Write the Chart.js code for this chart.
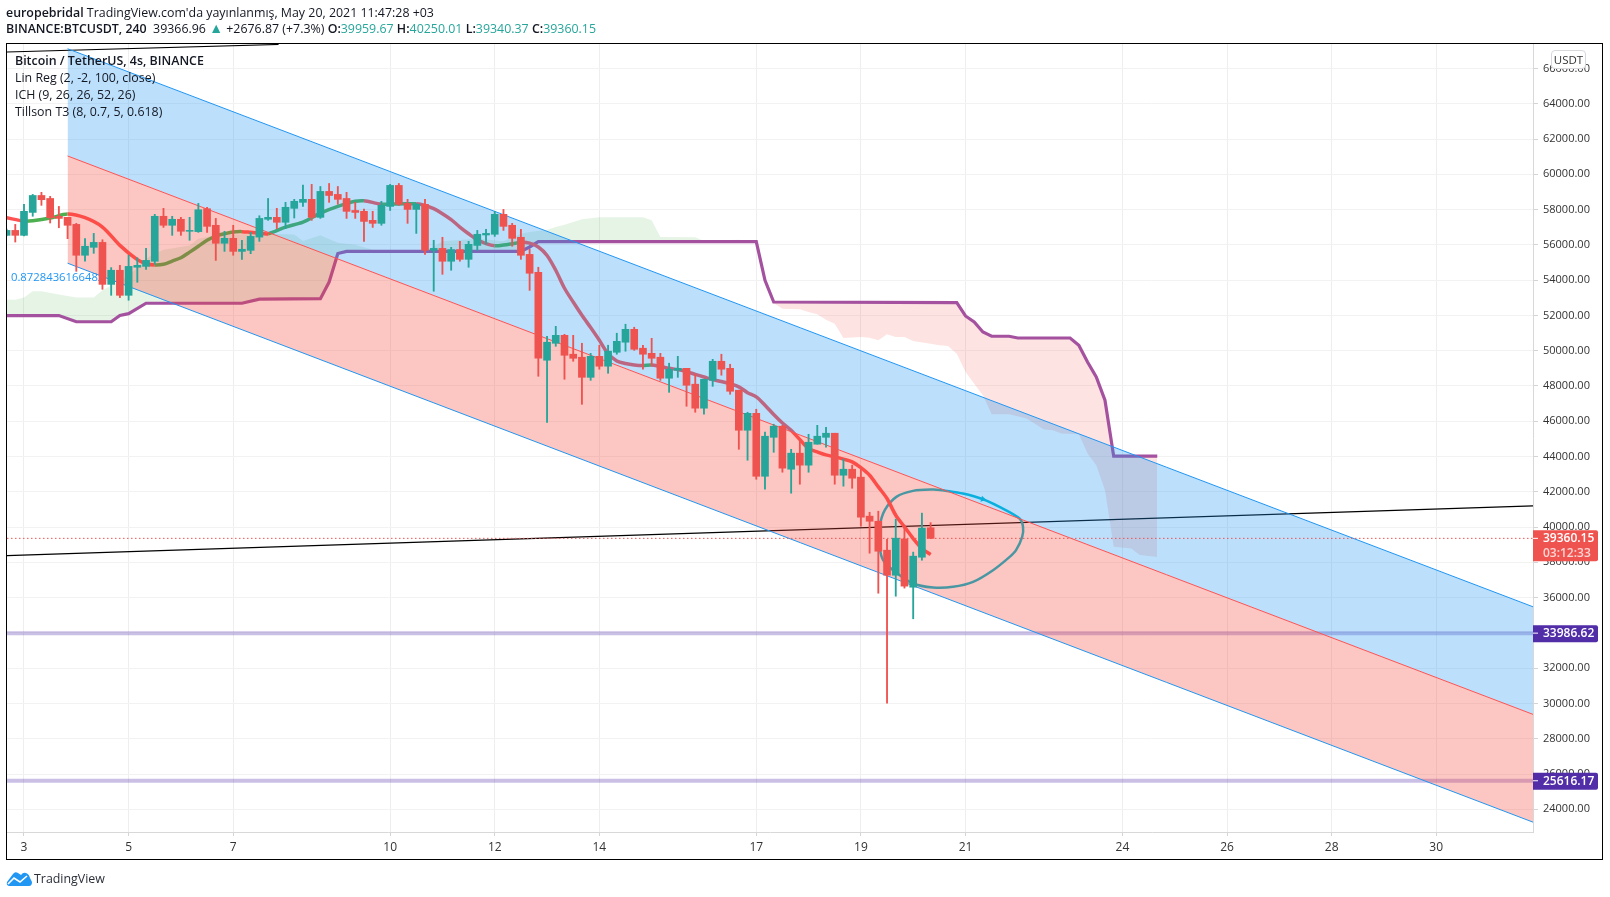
<!DOCTYPE html>
<html>
<head>
<meta charset="utf-8">
<title>BTCUSDT</title>
<script src="https://cdn.jsdelivr.net/npm/chart.js@4/dist/chart.umd.min.js"></script>
<style>
  html, body { margin: 0; padding: 0; background: #fff; overflow: hidden; }
  body { width: 1610px; height: 897px; position: relative; font-family: "Open Sans", sans-serif; color: #131722; }
  #c { position: absolute; left: 0; top: 0; }
  #frame { position: absolute; left: 6px; top: 43px; width: 1595px; height: 815px; border: 1.5px solid #000; pointer-events: none; }
  .line { position: absolute; white-space: nowrap; font-size: 12.4px; line-height: 17px; }
  .line b { font-weight: 600; }
  .g { color: #26a69a; }
  .tri { color: #26a69a; font-size: 14px; line-height: 12px; }
  #usdt { position: absolute; left: 1551px; top: 50px; width: 33px; height: 17px; background: #fff; border: 1px solid #d6d8de; border-radius: 4px; font-size: 11.5px; line-height: 17px; text-align: center; color: #333; }
  #logo { position: absolute; left: 6px; top: 870px; }
</style>
</head>
<body>
<canvas id="c" width="1610" height="897"></canvas>
<div id="frame"></div>
<div class="line" style="left:6px;top:4px"><b>europebridal</b> TradingView.com'da yayınlanmış, May 20, 2021 11:47:28 +03</div>
<div class="line" style="left:6px;top:20px"><b>BINANCE:BTCUSDT, 240</b>&nbsp; 39366.96 <span class="tri">▲</span> +2676.87 (+7.3%) <b>O:</b><span class="g">39959.67</span> <b>H:</b><span class="g">40250.01</span> <b>L:</b><span class="g">39340.37</span> <b>C:</b><span class="g">39360.15</span></div>
<div class="line" style="left:15px;top:52px"><b>Bitcoin / TetherUS, 4s, BINANCE</b></div>
<div class="line" style="left:15px;top:69px">Lin Reg (2, -2, 100, close)</div>
<div class="line" style="left:15px;top:86px">ICH (9, 26, 26, 52, 26)</div>
<div class="line" style="left:15px;top:103px">Tillson T3 (8, 0.7, 5, 0.618)</div>
<div id="usdt">USDT</div>
<svg id="logo" width="26" height="17" viewBox="0 0 26 17"><path d="M1 12 L7 4 Q9 1 12 3 L15 5 Q17 2 20 3 Q23 4 24 8 L26 12 Q26 16 23 16 L3 16 Q0 15 1 12 Z" fill="#2196f3"/><path d="M2 14 L8 8 L14 12 L21 6" fill="none" stroke="#fff" stroke-width="1.6"/></svg>
<div class="line" style="left:34px;top:870px;color:#2a2e39">TradingView</div>

<script>
// bar number = 4h candles since May 3 00:00
const xMin = -1.95, xMax = 173.1, yMin = 22712, yMax = 67388;

const xTickValues = [0, 12, 24, 42, 54, 66, 84, 96, 108, 126, 138, 150, 162];
const xTickLabels = ['3', '5', '7', '10', '12', '14', '17', '19', '21', '24', '26', '28', '30'];
const yTickValues = [24000, 26000, 28000, 30000, 32000, 34000, 36000, 38000, 40000, 42000, 44000, 46000, 48000, 50000, 52000, 54000, 56000, 58000, 60000, 62000, 64000, 66000];

const firstBar = -2;
const opens = [56540, 56820, 56540, 57840, 58800, 58630, 57620, 57560, 57160, 55410, 55860, 56140, 53760, 54560, 53140, 54730, 54780, 55070, 57620, 57110, 57450, 56770, 56750, 58050, 57110, 56090, 56370, 55630, 55690, 56440, 57450, 57560, 57280, 58070, 58410, 58580, 57560, 59030, 58860, 58630, 57950, 57900, 57390, 57220, 58180, 59370, 58350, 58010, 58300, 55690, 55800, 55070, 55730, 55180, 55970, 56560, 56600, 57730, 57110, 56430, 55460, 54440, 49460, 50420, 50870, 49800, 49630, 48490, 49680, 49120, 49910, 50480, 51210, 50140, 49850, 49630, 48440, 48890, 49000, 48100, 46740, 48320, 49400, 49000, 47760, 45490, 46450, 42880, 45090, 45720, 43280, 44190, 43510, 44700, 45090, 45320, 42940, 43280, 42830, 40620, 40330, 38690, 37270, 39330, 36590, 38290, 39959.67];
const highs = [56900, 57160, 58300, 58860, 58980, 58750, 58180, 57560, 57220, 56350, 56650, 56290, 54710, 54840, 55410, 55270, 55800, 57730, 58070, 57620, 57560, 57560, 58350, 58130, 57500, 56770, 57110, 56260, 56710, 57650, 58630, 58070, 58410, 58580, 59390, 59430, 59310, 59480, 59310, 58980, 58410, 58030, 57900, 58470, 59430, 59480, 58580, 58350, 58580, 56260, 56430, 55860, 56200, 56200, 56820, 56880, 57900, 58010, 57220, 56880, 55750, 54730, 50820, 51380, 50930, 50870, 50420, 49850, 50310, 50310, 50990, 51500, 51330, 50310, 50700, 49850, 49290, 49680, 49000, 48660, 48380, 49510, 49800, 49230, 47760, 46510, 46680, 45380, 45830, 45770, 44410, 44920, 45260, 45770, 45660, 45320, 43850, 43510, 43340, 40840, 40900, 39310, 40450, 40110, 38580, 40790, 40250.01];
const lows = [56500, 56160, 56500, 57620, 58240, 57240, 56970, 56350, 54500, 55070, 55520, 53480, 53140, 53010, 52860, 53880, 54610, 54900, 56990, 56540, 56540, 56260, 56710, 56710, 55120, 55630, 55410, 55180, 55500, 56200, 57390, 56920, 56920, 57520, 58180, 57390, 57500, 58410, 58300, 57500, 57500, 56200, 56990, 57110, 57950, 58240, 57220, 56650, 55460, 53370, 54330, 54560, 55070, 54730, 55690, 56030, 56480, 56820, 55920, 55180, 53420, 48550, 45940, 50250, 48380, 49400, 46960, 48320, 48950, 48720, 49800, 49970, 50020, 48950, 49120, 48320, 47640, 48490, 46850, 46510, 46400, 47980, 48610, 47530, 44410, 43790, 42710, 42150, 44240, 43110, 41920, 42430, 43110, 44700, 44530, 42430, 42320, 42200, 40050, 38520, 36250, 30020, 36080, 36540, 34800, 38120, 39340.37];
const closes = [56820, 56540, 57900, 58800, 58560, 57540, 57500, 57110, 55410, 55920, 56140, 53760, 54560, 53140, 54780, 54840, 55120, 57620, 57110, 57450, 56770, 56820, 57990, 57050, 56090, 56370, 55630, 55750, 56480, 57500, 57560, 57280, 58130, 58470, 58580, 57560, 59030, 58800, 58580, 57900, 57840, 57330, 57220, 58240, 59370, 58300, 58010, 58300, 55690, 55800, 55070, 55730, 55180, 56030, 56600, 56650, 57730, 57050, 56370, 55410, 54390, 49570, 50480, 50870, 49740, 49570, 48490, 49680, 49120, 49970, 50530, 51210, 50080, 49800, 49570, 48440, 48950, 49000, 48040, 46740, 48380, 49400, 48950, 47700, 45490, 46450, 42880, 45150, 45720, 43340, 44190, 43510, 44810, 45150, 45320, 42940, 43280, 42770, 40560, 40330, 38630, 37270, 39370, 36650, 38350, 39940, 39360.15];

const channelX = [5, 173.1];
const channelUpper = [67120, 35480];
const channelMiddle = [61040, 29380];
const channelLower = [54960, 23270];

const purpleX = [-2, 4, 6, 10, 11, 12, 14, 25, 27, 34, 35, 36, 37, 57, 58, 59, 60, 84, 85, 86, 107, 108, 109, 110, 111, 113, 114, 120, 121, 122, 123, 124, 125, 130];
const purpleY = [51990, 51990, 51640, 51640, 52000, 52100, 52690, 52690, 52920, 52950, 53890, 55510, 55630, 55630, 55880, 56180, 56180, 56180, 53990, 52760, 52720, 51970, 51630, 51060, 50820, 50820, 50720, 50720, 50310, 49360, 48510, 47190, 44020, 44020];

const leadX = [-2, -1, 0, 1, 2, 4, 6, 8, 9, 10, 12, 13, 14, 15, 16, 19, 20, 22, 24, 28, 31, 32, 34, 36, 38, 40, 42, 46, 47, 48, 52, 55, 57, 58, 60, 61, 62, 64, 66, 71, 72, 73, 77, 78, 82, 84, 85, 86, 87, 89, 90, 91, 92, 93, 94, 96, 97, 98, 99, 100, 101, 102, 104, 105, 106, 107, 108, 109, 110, 111, 113, 115, 117, 118, 119, 121, 122, 123, 124, 125, 127, 128, 130];
const leadY = [52890, 52890, 53010, 53370, 53370, 53180, 53010, 53010, 53420, 53700, 54270, 54710, 55220, 55500, 55730, 55970, 56350, 56540, 56590, 56630, 56590, 56220, 56540, 56120, 56010, 55730, 55630, 55630, 55900, 56200, 56350, 56200, 56630, 56730, 56860, 57010, 57140, 57450, 57560, 57560, 57390, 56440, 56430, 56220, 56290, 56180, 53900, 52700, 52380, 52350, 52190, 52060, 51760, 51530, 50720, 50780, 50740, 50590, 50930, 50780, 50780, 50550, 50400, 50310, 50270, 49830, 48800, 48130, 47470, 46400, 46400, 46150, 45530, 45490, 45300, 45260, 44170, 43510, 42090, 38880, 38790, 38410, 38310];

const t3X = [-2, 0, 1, 3, 5, 7, 9, 11, 13, 14, 15, 16, 17, 18, 19, 20, 21, 22, 23, 24, 25, 26, 27, 28, 30, 32, 34, 36, 38, 39, 41, 43, 45, 46, 47, 48, 49, 50, 51, 52, 53, 54, 55, 57, 58, 59, 60, 61, 62, 63, 64, 65, 66, 67, 68, 69, 70, 71, 72, 73, 74, 75, 76, 77, 78, 79, 80, 81, 82, 83, 84, 85, 86, 87, 88, 89, 90, 91, 92, 93, 94, 95, 96, 97, 98, 99, 100, 101, 102, 103, 104];
const t3Y = [57540, 57350, 57370, 57520, 57750, 57540, 57010, 55970, 55160, 54930, 54860, 54900, 55080, 55270, 55590, 55920, 56260, 56500, 56630, 56730, 56750, 56710, 56670, 56630, 57010, 57290, 57800, 58180, 58470, 58500, 58310, 58320, 58330, 58240, 58050, 57770, 57430, 57010, 56630, 56290, 56070, 55950, 55990, 56140, 56100, 55880, 55400, 54560, 53540, 52760, 52010, 51310, 50590, 49830, 49420, 49270, 49190, 49160, 49190, 49100, 49000, 48930, 48810, 48660, 48510, 48360, 48250, 48120, 47950, 47620, 47380, 46910, 46380, 45900, 45490, 44960, 44450, 44260, 44090, 43980, 43850, 43700, 43370, 42940, 42280, 41620, 40670, 40010, 39350, 38780, 38440];

const trendX = [-1.95, 173.1];
const trendY = [38380, 41200];
const topTrendX = [-1.95, 29.2];
const topTrendY = [66935, 67360];

const sketchX = [105.4, 107.7, 110, 111.9, 114.2, 114.6, 114.5, 113.8, 113.07, 111.16, 108.87, 106.57, 104.28, 101.98, 99.69, 98.55, 98.16, 98.16, 98.74, 100.07, 101.98, 104.28, 105.4];
const sketchY = [42090, 41900, 41580, 41145, 40484, 40012, 39445, 38690, 38312, 37556, 36895, 36612, 36574, 36800, 37556, 38123, 38879, 40012, 40956, 41711, 42052, 42127, 42090];

const lastPrice = 39360.15;
const lastPriceLabel = '39360.15';
const countdownLabel = '03:12:33';
const levels = [33986.62, 25616.17];
const levelLabels = ['33986.62', '25616.17'];
const channelNote = '0.8728436166482';
const noteX = -1.5, noteY = 54160;

const UP = '#26a69a', DOWN = '#ef5350';
const font = '"Open Sans", sans-serif';

const pts = (xs, ys) => xs.map((x, i) => ({ x: x, y: ys[i] }));
const barNo = opens.map((o, i) => firstBar + i);
const candleColors = opens.map((o, i) => closes[i] >= o ? UP : DOWN);

function lineSet(xs, ys, color, width, order, extra) {
  return Object.assign({
    type: 'line', data: pts(xs, ys), borderColor: color, borderWidth: width,
    pointRadius: 0, tension: 0, fill: false, order: order, clip: true
  }, extra || {});
}

const tagPlugin = {
  id: 'tags',
  beforeDatasetsDraw(chart) {
    const c = chart.ctx, xs = chart.scales.x, ys = chart.scales.y;
    c.save();
    c.font = '11.3px ' + font;
    c.fillStyle = '#2196f3';
    c.textBaseline = 'middle';
    c.fillText(channelNote, xs.getPixelForValue(noteX), ys.getPixelForValue(noteY));
    c.restore();
  },
  afterDraw(chart) {
    const c = chart.ctx, ys = chart.scales.y, left = chart.chartArea.right;
    c.save();
    c.textBaseline = 'middle';
    c.textAlign = 'left';
    function tag(y, h, color, texts) {
      c.fillStyle = color;
      c.beginPath();
      c.roundRect(left, y, 65, h, [0, 2, 2, 0]);
      c.fill();
      c.strokeStyle = '#fff';
      c.beginPath();
      c.moveTo(left, y + 8);
      c.lineTo(left + 5, y + 8);
      c.stroke();
      texts.forEach((t, i) => {
        c.fillStyle = t[1];
        c.font = '600 12px ' + font;
        c.fillText(t[0], left + 10, y + 8.5 + i * 15);
      });
    }
    levels.forEach((v, i) => tag(ys.getPixelForValue(v) - 8, 17, '#512da8', [[levelLabels[i], '#fff']]));
    tag(ys.getPixelForValue(lastPrice) - 8, 31, DOWN, [[lastPriceLabel, '#fff'], [countdownLabel, '#fbd5d3']]);
    c.restore();
  }
};

new Chart(document.getElementById('c'), {
  type: 'bar',
  plugins: [tagPlugin],
  data: {
    datasets: [
      // channel and its fills sit over the indicators, candles over everything
      { type: 'bar', data: barNo.map((x, i) => ({ x: x, y: [opens[i], closes[i]] })), backgroundColor: candleColors, barThickness: 7, grouped: false, order: 1 },
      { type: 'bar', data: barNo.map((x, i) => ({ x: x, y: [lows[i], highs[i]] })), backgroundColor: candleColors, barThickness: 1.2, grouped: false, order: 2 },
      lineSet([xMin, xMax], [lastPrice, lastPrice], DOWN, 1, 3, { borderDash: [1.5, 2.5] }),
      lineSet(channelX, channelUpper, '#2196f3', 1, 6, { fill: { target: '+1', above: 'rgba(33,150,243,0.3)', below: 'rgba(33,150,243,0.3)' } }),
      lineSet(channelX, channelMiddle, '#ff5252', 1, 5, { fill: { target: '+1', above: 'rgba(244,67,54,0.3)', below: 'rgba(244,67,54,0.3)' } }),
      lineSet(channelX, channelLower, '#2196f3', 1, 4),
      lineSet(t3X, t3Y, '#ff5252', 3.5, 8, {
        tension: 0.3,
        segment: { borderColor: s => s.p1.parsed.y >= s.p0.parsed.y ? '#4caf50' : '#ff5252' }
      }),
      lineSet(sketchX, sketchY, '#00bcd4', 2.5, 9, { tension: 0.3 }),
      lineSet(sketchX.slice(2, 3), sketchY.slice(2, 3), '#00bcd4', 0, 9, { pointRadius: 3.5, pointStyle: 'triangle', pointRotation: 105, pointBackgroundColor: '#00bcd4', showLine: false }),
      lineSet(trendX, trendY, '#000', 1.2, 10),
      lineSet(topTrendX, topTrendY, '#000', 1.2, 10),
      lineSet([xMin, xMax], [levels[0], levels[0]], 'rgba(81,45,168,0.3)', 4, 10),
      lineSet([xMin, xMax], [levels[1], levels[1]], 'rgba(81,45,168,0.3)', 4, 10),
      lineSet(purpleX, purpleY, '#a4529f', 3.2, 11),
      lineSet(leadX, leadY, 'transparent', 0, 12, { fill: { target: '-1', above: 'rgba(76,175,80,0.14)', below: 'rgba(244,67,54,0.15)' } })
    ]
  },
  options: {
    responsive: false,
    animation: false,
    events: [],
    layout: { padding: { left: 7, right: 7, top: 44, bottom: 37 } },
    plugins: { legend: { display: false }, tooltip: { enabled: false } },
    scales: {
      x: {
        type: 'linear', min: xMin, max: xMax, offset: false,
        afterBuildTicks: s => { s.ticks = xTickValues.map(v => ({ value: v })); },
        afterFit: s => { s.height = 28; },
        grid: { offset: false, color: '#eeeeee', tickColor: '#d4d4d4', tickLength: 4 },
        border: { color: '#d8d8d8' },
        ticks: {
          autoSkip: false, maxRotation: 0, padding: 4, color: '#333',
          font: { family: font, size: 12 },
          callback: v => xTickLabels[xTickValues.indexOf(v)]
        }
      },
      y: {
        position: 'right', min: yMin, max: yMax,
        afterBuildTicks: s => { s.ticks = yTickValues.map(v => ({ value: v })); },
        afterFit: s => { s.width = 70; },
        grid: { color: '#f2f2f2', tickColor: '#d4d4d4', tickLength: 5 },
        border: { color: '#d8d8d8' },
        ticks: {
          autoSkip: false, padding: 5, color: '#333',
          font: { family: font, size: 11 },
          callback: v => v.toFixed(2)
        }
      }
    }
  }
});
</script>
</body>
</html>
